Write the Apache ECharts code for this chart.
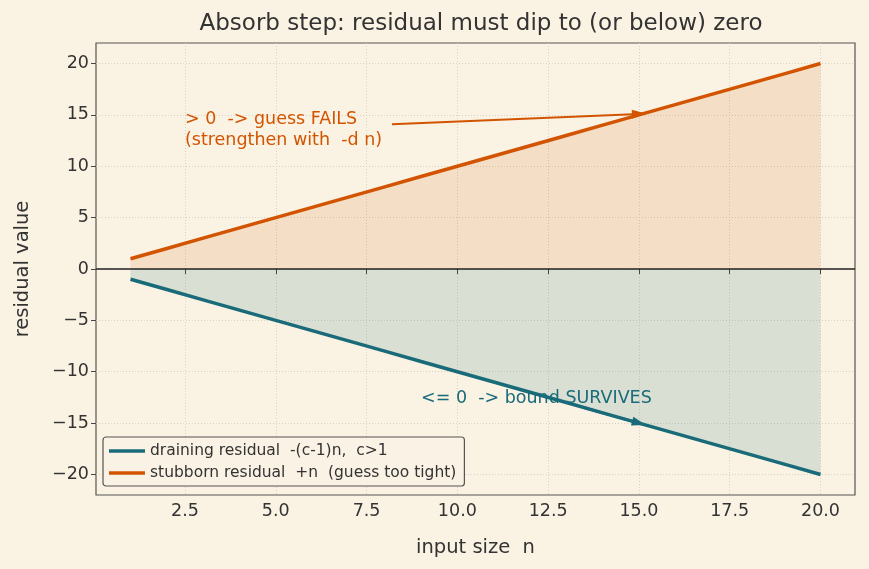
<!DOCTYPE html>
<html>
<head>
<meta charset="utf-8">
<script src="https://cdn.jsdelivr.net/npm/echarts@6/dist/echarts.min.js"></script>
<style>
  html, body { margin: 0; padding: 0; background: #faf2e3; }
  #chart { width: 869px; height: 569px; }
</style>
</head>
<body>
<div id="chart"></div>
<script>
// input sizes n
const sizes = [1, 2, 3, 4, 5, 6, 7, 8, 9, 10, 11, 12, 13, 14, 15, 16, 17, 18, 19, 20];
// residuals
const draining = [-1, -2, -3, -4, -5, -6, -7, -8, -9, -10, -11, -12, -13, -14, -15, -16, -17, -18, -19, -20];
const stubborn = [1, 2, 3, 4, 5, 6, 7, 8, 9, 10, 11, 12, 13, 14, 15, 16, 17, 18, 19, 20];
const xTicks = [2.5, 5, 7.5, 10, 12.5, 15, 17.5, 20];
const yTicks = [-20, -15, -10, -5, 0, 5, 10, 15, 20];

const ORANGE = '#d35400';
const TEAL = '#1a6b7a';
const INK = '#333333';
const FONT = 'DejaVu Sans';

const chart = echarts.init(document.getElementById('chart'));

const minus = (s) => String(s).replace('-', '\u2212');

const option = {
  backgroundColor: '#faf2e3',
  textStyle: { fontFamily: FONT },
  title: {
    text: 'Absorb step: residual must dip to (or below) zero',
    left: 476,
    textAlign: 'center',
    top: 8,
    textStyle: { fontFamily: FONT, fontSize: 23, fontWeight: 'normal', color: INK }
  },
  grid: {
    left: 96, right: 14, top: 43, bottom: 74,
    show: true,
    backgroundColor: '#faf2e3',
    borderColor: '#555',
    borderWidth: 1.2
  },
  legend: {
    orient: 'vertical',
    left: 103,
    top: 437,
    padding: [6, 8, 5, 6],
    itemGap: 6,
    itemWidth: 36,
    itemHeight: 3.5,
    icon: 'rect',
    backgroundColor: 'rgba(250,242,227,0.9)',
    borderColor: '#555',
    borderWidth: 1.2,
    borderRadius: 3,
    textStyle: { fontFamily: FONT, fontSize: 15.5, color: INK },
    data: ['draining residual  -(c-1)n,  c>1', 'stubborn residual  +n  (guess too tight)']
  },
  xAxis: {
    type: 'value',
    min: 0.05,
    max: 20.95,
    name: 'input size  n',
    nameLocation: 'middle',
    nameGap: 43,
    nameTextStyle: { fontFamily: FONT, fontSize: 19.5, color: INK },
    axisLine: { show: false },
    axisTick: { show: true, customValues: xTicks, length: 5, lineStyle: { color: '#444' } },
    axisLabel: {
      customValues: xTicks,
      fontFamily: FONT, fontSize: 17.5, color: INK, margin: 7,
      formatter: (v) => Number(v).toFixed(1)
    },
    splitLine: { show: true, lineStyle: { color: '#cfc8bb', type: [1, 2], width: 0.8 } }
  },
  yAxis: {
    type: 'value',
    min: -22,
    max: 22,
    name: 'residual value',
    nameLocation: 'middle',
    nameGap: 63,
    nameTextStyle: { fontFamily: FONT, fontSize: 19.5, color: INK },
    axisLine: { show: false },
    axisTick: { show: true, customValues: yTicks, length: 5, lineStyle: { color: '#444' } },
    axisLabel: {
      customValues: yTicks,
      fontFamily: FONT, fontSize: 17.5, color: INK, margin: 7,
      formatter: (v) => minus(v)
    },
    splitLine: { show: true, lineStyle: { color: '#cfc8bb', type: [1, 2], width: 0.8 } }
  },
  series: [
    {
      name: 'draining residual  -(c-1)n,  c>1',
      type: 'line',
      data: sizes.map((n, i) => [n, draining[i]]),
      showSymbol: false,
      color: TEAL,
      lineStyle: { width: 3.5, color: TEAL },
      areaStyle: { color: 'rgba(26,112,110,0.2)', origin: 0 },
      z: 3,
      markLine: {
        silent: true,
        symbol: ['none', 'none'],
        label: { show: false },
        lineStyle: { color: '#222', width: 1.5, type: 'solid' },
        data: [{ yAxis: 0 }]
      },
      markPoint: {
        silent: true,
        symbolSize: 0,
        data: [{
          coord: [9, -12.6],
          label: {
            show: true, position: [0, 0], align: 'left', verticalAlign: 'middle',
            color: TEAL, fontFamily: FONT, fontSize: 17.5,
            formatter: '<= 0  -> bound SURVIVES'
          }
        }]
      }
    },
    {
      name: 'stubborn residual  +n  (guess too tight)',
      type: 'line',
      data: sizes.map((n, i) => [n, stubborn[i]]),
      showSymbol: false,
      color: ORANGE,
      lineStyle: { width: 3.5, color: ORANGE },
      areaStyle: { color: 'rgba(211,84,0,0.18)', origin: 0 },
      z: 3,
      markPoint: {
        silent: true,
        symbolSize: 0,
        data: [{
          coord: [2.5, 13.5],
          label: {
            show: true, position: [0, 0], align: 'left', verticalAlign: 'middle',
            color: ORANGE, fontFamily: FONT, fontSize: 17.5, lineHeight: 21,
            formatter: '> 0  -> guess FAILS\n(strengthen with  -d n)'
          }
        }]
      }
    },
    {
      // annotation arrows
      type: 'line',
      data: [],
      markLine: {
        silent: true,
        symbol: ['none', 'triangle'],
        symbolSize: [9, 14],
        label: { show: false },
        data: [
          [{ coord: [8.2, 14.1], lineStyle: { color: ORANGE, width: 2, type: 'solid' } }, { coord: [15, 15.1] }],
          [{ coord: [13.5, -13.5], lineStyle: { color: TEAL, width: 2.5, type: 'solid' } }, { coord: [15, -15] }]
        ]
      },
      z: 5
    }
  ]
};

chart.setOption(option);
</script>
</body>
</html>
